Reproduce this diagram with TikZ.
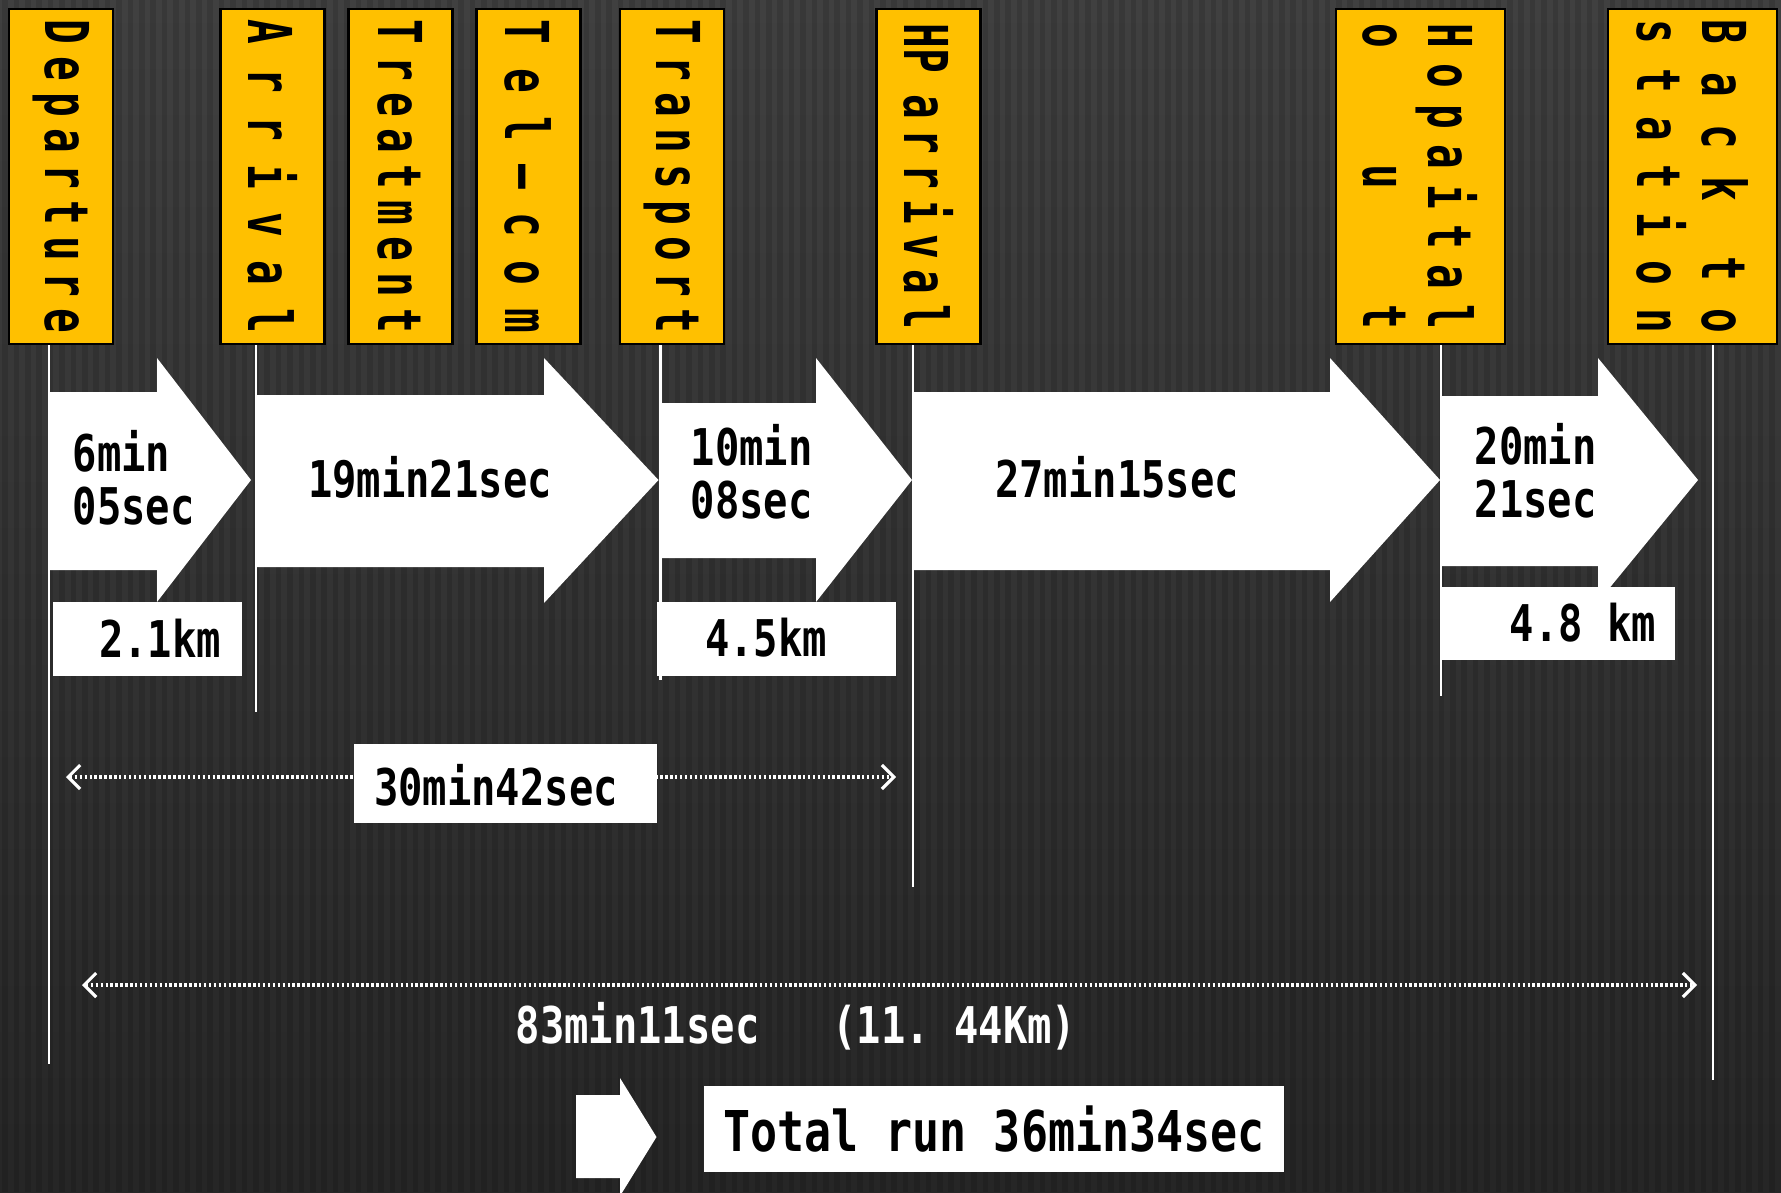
\documentclass[tikz,border=0pt]{standalone}
\usepackage{fontspec}
\newfontfamily\gothic[FakeStretch=0.8]{DejaVu Sans Mono}
\newfontfamily\boxfont[FakeStretch=0.68]{DejaVu Sans Mono}
\usepackage{tikz}
\usetikzlibrary{arrows.meta, positioning}
\definecolor{boxyellow}{HTML}{FFC000}
\definecolor{bgtop}{HTML}{404040}
\definecolor{bgbottom}{HTML}{262626}

\begin{document}
\begin{tikzpicture}[
    ybox/.style={draw=black, line width=0.7pt, fill=boxyellow, minimum height=3.35cm, minimum width=1.04cm, inner sep=0pt, font=\boxfont\bfseries\fontsize{17.2}{18.5}\selectfont},
    tline/.style={draw=white, line width=0.6pt},
    wbox/.style={fill=white, inner sep=0pt},
    wtext/.style={inner sep=0pt, align=left, font=\gothic\bfseries\fontsize{14.4}{15}\selectfont},
    span/.style={white, line width=0.9pt, dash pattern=on 0.7pt off 0.7pt, {Straight Barb[length=1.2mm,width=2.4mm]}-{Straight Barb[length=1.2mm,width=2.4mm]}}
]

    % Background
    \useasboundingbox (0,0) rectangle (17.81,-11.92);
    \clip (0,0) rectangle (17.81,-11.92);
    \shade[top color=bgtop, bottom color=bgbottom] (0,0) rectangle (17.81,-11.92);
    \foreach \x in {0.05,0.164,...,17.8}
        \draw[black, opacity=0.12, line width=1.6pt] (\x,0) -- (\x,-11.92);

    % Nodes for the stages (yellow boxes)
    \node (departure) [ybox] at (0.6125,-1.765) {\rotatebox{-90}{\parbox{3.13cm}{D\hfill e\hfill p\hfill a\hfill r\hfill t\hfill u\hfill r\hfill e}}};
    \node (arrival) [ybox] at (2.725,-1.765) {\rotatebox{-90}{\parbox{3.13cm}{A\hfill r\hfill r\hfill i\hfill v\hfill a\hfill l}}};
    \node (treatment) [ybox] at (4.003,-1.765) {\rotatebox{-90}{\parbox{3.13cm}{T\hfill r\hfill e\hfill a\hfill t\hfill m\hfill e\hfill n\hfill t}}};
    \node (telcom) [ybox] at (5.285,-1.765) {\rotatebox{-90}{\parbox{3.13cm}{T\hfill e\hfill l\hfill –\hfill c\hfill o\hfill m}}};
    \node (transport) [ybox] at (6.72,-1.765) {\rotatebox{-90}{\parbox{3.13cm}{T\hfill r\hfill a\hfill n\hfill s\hfill p\hfill o\hfill r\hfill t}}};
    \node (hparrival) [ybox] at (9.285,-1.765) {\rotatebox{-90}{\parbox{3.05cm}{HP\hfill\hfill a\hfill r\hfill r\hfill i\hfill v\hfill a\hfill l}}};
    \node (hpout) [ybox, minimum width=1.69cm] at (14.205,-1.765) {\rotatebox{-90}{\parbox{3.05cm}{H\hfill o\hfill p\hfill a\hfill i\hfill t\hfill a\hfill l\\o\hfill u\hfill t}}};
    \node (backstation) [ybox, minimum width=1.69cm] at (16.926,-1.765) {\rotatebox{-90}{\parbox{3.13cm}{B\hfill a\hfill c\hfill k\hfill\hfill t\hfill o\\s\hfill t\hfill a\hfill t\hfill i\hfill o\hfill n}}};

    % Time lines below the boxes
    \coordinate (depend) at (0.486,-10.64);
    \coordinate (arrend) at (2.56,-7.12);
    \coordinate (traend) at (6.605,-6.80);
    \coordinate (hpend) at (9.127,-8.87);
    \coordinate (outend) at (14.41,-6.96);
    \coordinate (backend) at (17.128,-10.80);
    \draw[tline] (departure.south -| depend) -- (depend);
    \draw[tline] (arrival.south -| arrend) -- (arrend);
    \draw[tline] (transport.south -| traend) -- (traend);
    \draw[tline] (hparrival.south -| hpend) -- (hpend);
    \draw[tline] (hpout.south -| outend) -- (outend);
    \draw[tline] (backstation.south -| backend) -- (backend);

    % Block arrows for each leg
    \fill[white] (0.50,-3.92) -- (1.57,-3.92) -- (1.57,-3.58) -- (2.51,-4.80) -- (1.57,-6.02) -- (1.57,-5.70) -- (0.50,-5.70) -- cycle;
    \fill[white] (2.57,-3.95) -- (5.44,-3.95) -- (5.44,-3.58) -- (6.585,-4.80) -- (5.44,-6.03) -- (5.44,-5.67) -- (2.57,-5.67) -- cycle;
    \fill[white] (6.60,-4.03) -- (8.16,-4.03) -- (8.16,-3.58) -- (9.12,-4.80) -- (8.16,-6.02) -- (8.16,-5.58) -- (6.60,-5.58) -- cycle;
    \fill[white] (9.12,-3.92) -- (13.30,-3.92) -- (13.30,-3.58) -- (14.40,-4.80) -- (13.30,-6.02) -- (13.30,-5.70) -- (9.12,-5.70) -- cycle;
    \fill[white] (14.41,-3.96) -- (15.98,-3.96) -- (15.98,-3.58) -- (16.98,-4.80) -- (15.98,-6.02) -- (15.98,-5.66) -- (14.41,-5.66) -- cycle;

    % Times inside the arrows
    \node (leg1) [wtext, anchor=west] at (0.72,-4.78) {6min\\05sec};
    \node (leg2) [wtext] at (4.30,-4.77) {19min21sec};
    \node (leg3) [wtext, anchor=west] at (6.90,-4.72) {10min\\08sec};
    \node (leg4) [wtext] at (11.17,-4.77) {27min15sec};
    \node (leg5) [wtext, anchor=west] at (14.74,-4.705) {20min\\21sec};

    % Distances
    \node (km1box) [wbox, minimum width=1.89cm, minimum height=0.74cm] at (1.477,-6.39) {};
    \node (km1) [wtext] at (1.60,-6.38) {2.1km};
    \node (km2box) [wbox, minimum width=2.385cm, minimum height=0.74cm] at (7.763,-6.39) {};
    \node (km2) [wtext] at (7.66,-6.38) {4.5km};
    \node (km3box) [wbox, minimum width=2.34cm, minimum height=0.733cm] at (15.58,-6.233) {};
    \node (km3) [wtext] at (15.83,-6.225) {4.8 km};

    % Spans
    \coordinate (span1l) at (0.66,-7.77);
    \coordinate (span1r) at (8.96,-7.77);
    \draw[span] (span1l) -- (span1r);
    \node (firstbox) [wbox, minimum width=3.03cm, minimum height=0.79cm] at (5.055,-7.835) {};
    \node (first) [wtext] at (4.96,-7.85) {30min42sec};

    \coordinate (span2l) at (0.82,-9.85);
    \coordinate (span2r) at (16.97,-9.85);
    \draw[span] (span2l) -- (span2r);
    \node (totaldist) [wtext, white, anchor=west] at (5.15,-10.26) {83min11sec\ \ \ (11.\ 44Km)};

    % Total run
    \fill[white] (5.76,-10.95) -- (6.20,-10.95) -- (6.20,-10.78) -- (6.565,-11.37) -- (6.20,-11.96) -- (6.20,-11.78) -- (5.76,-11.78) -- cycle;
    \node (total) [wbox, minimum width=5.80cm, minimum height=0.86cm, font=\gothic\bfseries\fontsize{16}{18}\selectfont] at (9.94,-11.29) {Total run 36min34sec};

\end{tikzpicture}
\end{document}
